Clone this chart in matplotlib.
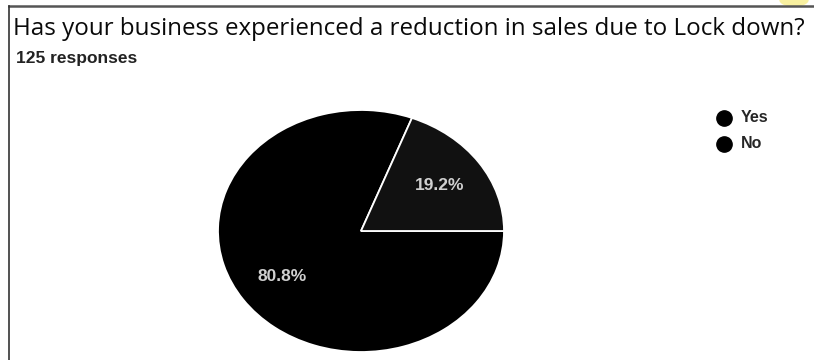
import matplotlib.pyplot as plt
from matplotlib.lines import Line2D
from matplotlib.patches import Ellipse

labels = ['Yes', 'No']
shares = [80.8, 19.2]
colors = ['#000000', '#111111']

title = 'Has your business experienced a reduction in sales due to Lock down?'
subtitle = '125 responses'

W, H = 814, 360
fig = plt.figure(figsize=(W / 100, H / 100), dpi=100)
fig.patch.set_facecolor('white')
plt.rcParams['font.family'] = ['Open Sans', 'DejaVu Sans']
renderer = fig.canvas.get_renderer()
sans = ['Liberation Sans', 'DejaVu Sans']


def fit_text(x, y, s, width_px, **kw):
    # put text at pixel position and scale its size to a target pixel width
    t = fig.text(x / W, 1 - y / H, s, va='center', ha='left', **kw)
    w = t.get_window_extent(renderer).width
    t.set_fontsize(t.get_fontsize() * width_px / w)
    return t


# frame lines (top and left) like the screenshot
fig.add_artist(Ellipse((794 / W, 1.0), 28 / W, 12 / H, color='#f8f0a0', transform=fig.transFigure))
fig.add_artist(Line2D([9 / W, 1], [1 - 6 / H, 1 - 6 / H], color='#555555', lw=1.8))
fig.add_artist(Line2D([9 / W, 9 / W], [0, 1 - 6 / H], color='#333333', lw=1.2))

fit_text(13, 29, title, 795, fontsize=14, color='#0a0a0a')
fit_text(16, 58, subtitle, 121, fontsize=9, fontweight='bold', family=sans, color='#222222')

# pie axes: centre (361, 231), radii 143 x 121 px
cx, cy, rx, ry = 361, 231, 143, 121
ax = fig.add_axes([(cx - rx) / W, 1 - (cy + ry) / H, 2 * rx / W, 2 * ry / H])
wedges, texts, autotexts = ax.pie(shares, colors=colors, startangle=360 * shares[1] / 100,
                                  counterclock=True, autopct='%1.1f%%', pctdistance=0.67,
                                  wedgeprops=dict(edgecolor='white', linewidth=1.3),
                                  textprops=dict(color='#d0d0d0', fontsize=12.5, fontweight='bold',
                                                 family=sans))
ax.set_aspect('auto')
ax.set_xlim(-1, 1)
ax.set_ylim(-1, 1)
ax.axis('off')

# legend
for i, lab in enumerate(labels):
    y = 1 - (118 + 26 * i) / H
    fig.add_artist(Line2D([724 / W], [y], marker='o', markersize=11, color='black', linestyle='none'))
    fig.text(741 / W, y, lab, fontsize=11.5, fontweight='bold', family=sans,
             va='center', ha='left', color='#262626')

fig.savefig('out.png', dpi=100)
